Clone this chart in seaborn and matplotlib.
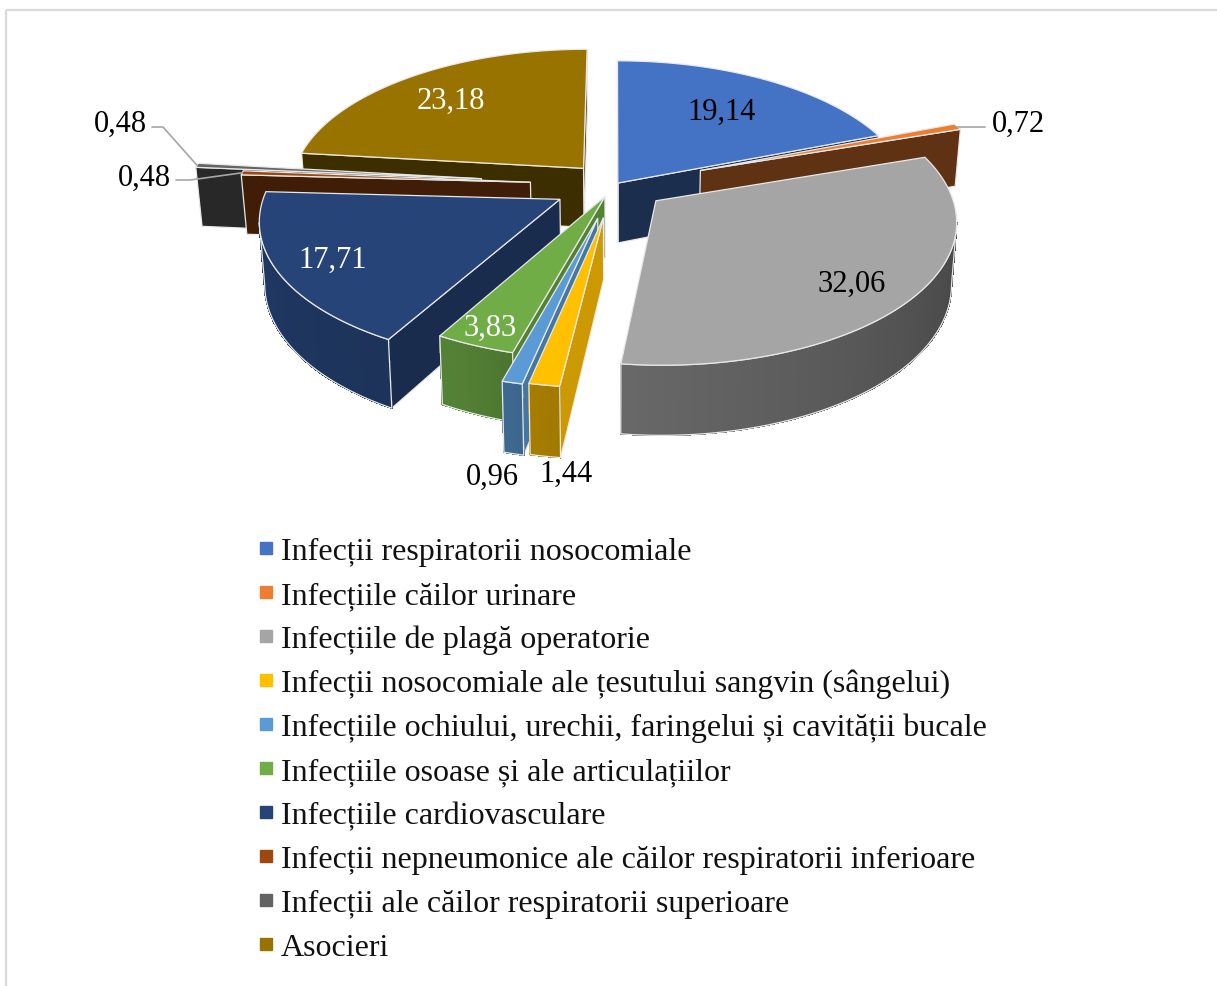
import numpy as np
import matplotlib
matplotlib.use("Agg")
import matplotlib.pyplot as plt
from matplotlib.collections import PolyCollection
from matplotlib.lines import Line2D
from matplotlib.patches import Polygon, Rectangle
import seaborn as sns

# ==========================
# DATA
# ==========================

categories = [
    "Infecții respiratorii nosocomiale",
    "Infecțiile căilor urinare",
    "Infecțiile de plagă operatorie",
    "Infecții nosocomiale ale țesutului sangvin (sângelui)",
    "Infecțiile ochiului, urechii, faringelui și cavității bucale",
    "Infecțiile osoase și ale articulațiilor",
    "Infecțiile cardiovasculare",
    "Infecții nepneumonice ale căilor respiratorii inferioare",
    "Infecții ale căilor respiratorii superioare",
    "Asocieri",
]
values = [19.14, 0.72, 32.06, 1.44, 0.96, 3.83, 17.71, 0.48, 0.48, 23.18]

colors = ["#4472C4", "#ED7D31", "#A5A5A5", "#FFC000", "#5B9BD5",
          "#70AD47", "#264478", "#9E480E", "#636363", "#997300"]

# ==========================
# STYLE / LAYOUT
# ==========================

explode = [5, 92, 52, 68, 70, 26, 62, 85, 135, 48]
draw_order = [9, 8, 7, 6, 0, 1, 2, 5, 4, 3]
label_xy = [(722, 112), (1018, 124), (852, 284), (566, 474), (492, 477),
            (490, 328), (333, 260), (144, 178), (120, 124), (451, 101)]
label_white = [False, False, False, False, False, True, True, False, False, True]

CX, CY = 615, 186
RADIUS = 293
FLAT = 0.473
PERSP = 0.13
DEPTH = 60
EDGE = "#e8e8e8"

sns.set_theme(style="white")
plt.rcParams["font.family"] = ["Liberation Serif", "DejaVu Serif"]
palette = sns.color_palette(colors)


def project(r, theta, off, mid, z=0.0):
    t, m = np.radians(theta), np.radians(mid)
    x3 = r * np.sin(t) + off * np.sin(m)
    y3 = r * np.cos(t) + off * np.cos(m)
    s = 1 / (1 + PERSP * y3 / RADIUS)
    shrink = 1 - 0.015 * (z / DEPTH)
    return np.column_stack([CX + x3 * s * shrink, CY - FLAT * y3 * s + z * s])


def side_shade(normal):
    return np.interp(normal, [97, 157], [0.8, 0.4])


def arc_shade(theta):
    return np.interp(theta, [90, 190, 205, 275], [0.4, 0.64, 0.74, 0.85])


def dark(col, f):
    return tuple(c * f for c in col)


def draw_side(ax, p, q, off, mid, col, normal, th_p, th_q):
    # flat wall between the apex and one straight edge of the slice
    low = project(np.array([p, q]), np.array([th_p, th_q]), off, mid, DEPTH)
    top = project(np.array([p, q]), np.array([th_p, th_q]), off, mid, 0)
    ax.add_patch(Polygon(np.vstack([top, low[::-1]]), closed=True,
                         fc=dark(col, side_shade(normal)), ec=EDGE, lw=0.9))


fig, ax = plt.subplots(figsize=(12.17, 9.87), dpi=100)
fig.subplots_adjust(0, 0, 1, 1)
ax.set_xlim(0, 1217)
ax.set_ylim(987, 0)
ax.set_xticks([])
ax.set_yticks([])
sns.despine(ax=ax, left=True, bottom=True)

ax.add_patch(Rectangle((5.5, 10.5), 1400, 1200, fill=False, ec="#d9d9d9", lw=1.6))

# ==========================
# SLICES
# ==========================

bounds = np.concatenate([[0], np.cumsum(values)]) / sum(values) * 360
mids = (bounds[:-1] + bounds[1:]) / 2

for i in draw_order:
    a, b = bounds[i], bounds[i + 1]
    off, mid, col = explode[i], mids[i], palette[i]
    th = np.linspace(a, b, max(int(b - a) * 2, 6))

    apex = project(0, a, off, mid)
    rim = project(RADIUS, th, off, mid)

    # end wall (right to left on screen) and start wall
    if rim[-1, 0] > apex[0, 0]:
        draw_side(ax, RADIUS, 0, off, mid, col, b + 90, b, b)
    if rim[0, 0] < apex[0, 0]:
        draw_side(ax, 0, RADIUS, off, mid, col, (a - 90) % 360, a, a)

    # outer wall, in small strips for the shading
    low = project(RADIUS, th, off, mid, DEPTH)
    keep = np.where(rim[1:, 0] < rim[:-1, 0])[0]
    if len(keep):
        quads = [np.vstack([rim[j], rim[j + 1], low[j + 1], low[j]]) for j in keep]
        shades = [dark(col, arc_shade((th[j] + th[j + 1]) / 2)) for j in keep]
        ax.add_collection(PolyCollection(quads, facecolors=shades, edgecolors=shades,
                                         linewidths=0.6, antialiased=False))
        outline = np.vstack([rim[keep[0]:keep[-1] + 2], low[keep[0]:keep[-1] + 2][::-1]])
        ax.add_patch(Polygon(outline, closed=True, fill=False, ec=EDGE, lw=0.9))

    ax.add_patch(Polygon(np.vstack([apex, rim]), closed=True, fc=col, ec=EDGE, lw=0.9))

# ==========================
# LEADER LINES AND LABELS
# ==========================

for i, elbow_x, end_x, end_y in [(1, None, 985, None), (7, 190, 176, 181), (8, 163, 152, 128)]:
    tip = project(RADIUS, mids[i], explode[i], mids[i])[0]
    if elbow_x is None:
        ax.plot([tip[0], end_x], [tip[1], tip[1]], color="#a6a6a6", lw=1.2, zorder=5)
    else:
        ax.plot([tip[0], elbow_x, end_x], [tip[1], end_y, end_y], color="#a6a6a6", lw=1.2, zorder=5)

for v, xy, white in zip(values, label_xy, label_white):
    ax.text(xy[0], xy[1], f"{v:.2f}".replace(".", ","), ha="center", va="center",
            fontsize=22, color="white" if white else "black", zorder=6)

# ==========================
# LEGEND
# ==========================

handles = [Line2D([], [], ls="", marker="s", ms=8, color=c) for c in palette]
ax.legend(handles, categories, loc="upper left", bbox_to_anchor=(257.5 / 1217, 1 - 538 / 987),
          frameon=False, fontsize=23, labelspacing=0.455, handlelength=0.55,
          handletextpad=0.18, borderpad=0, borderaxespad=0, labelcolor="#111111")

plt.savefig("out.png", dpi=100)
plt.close()
